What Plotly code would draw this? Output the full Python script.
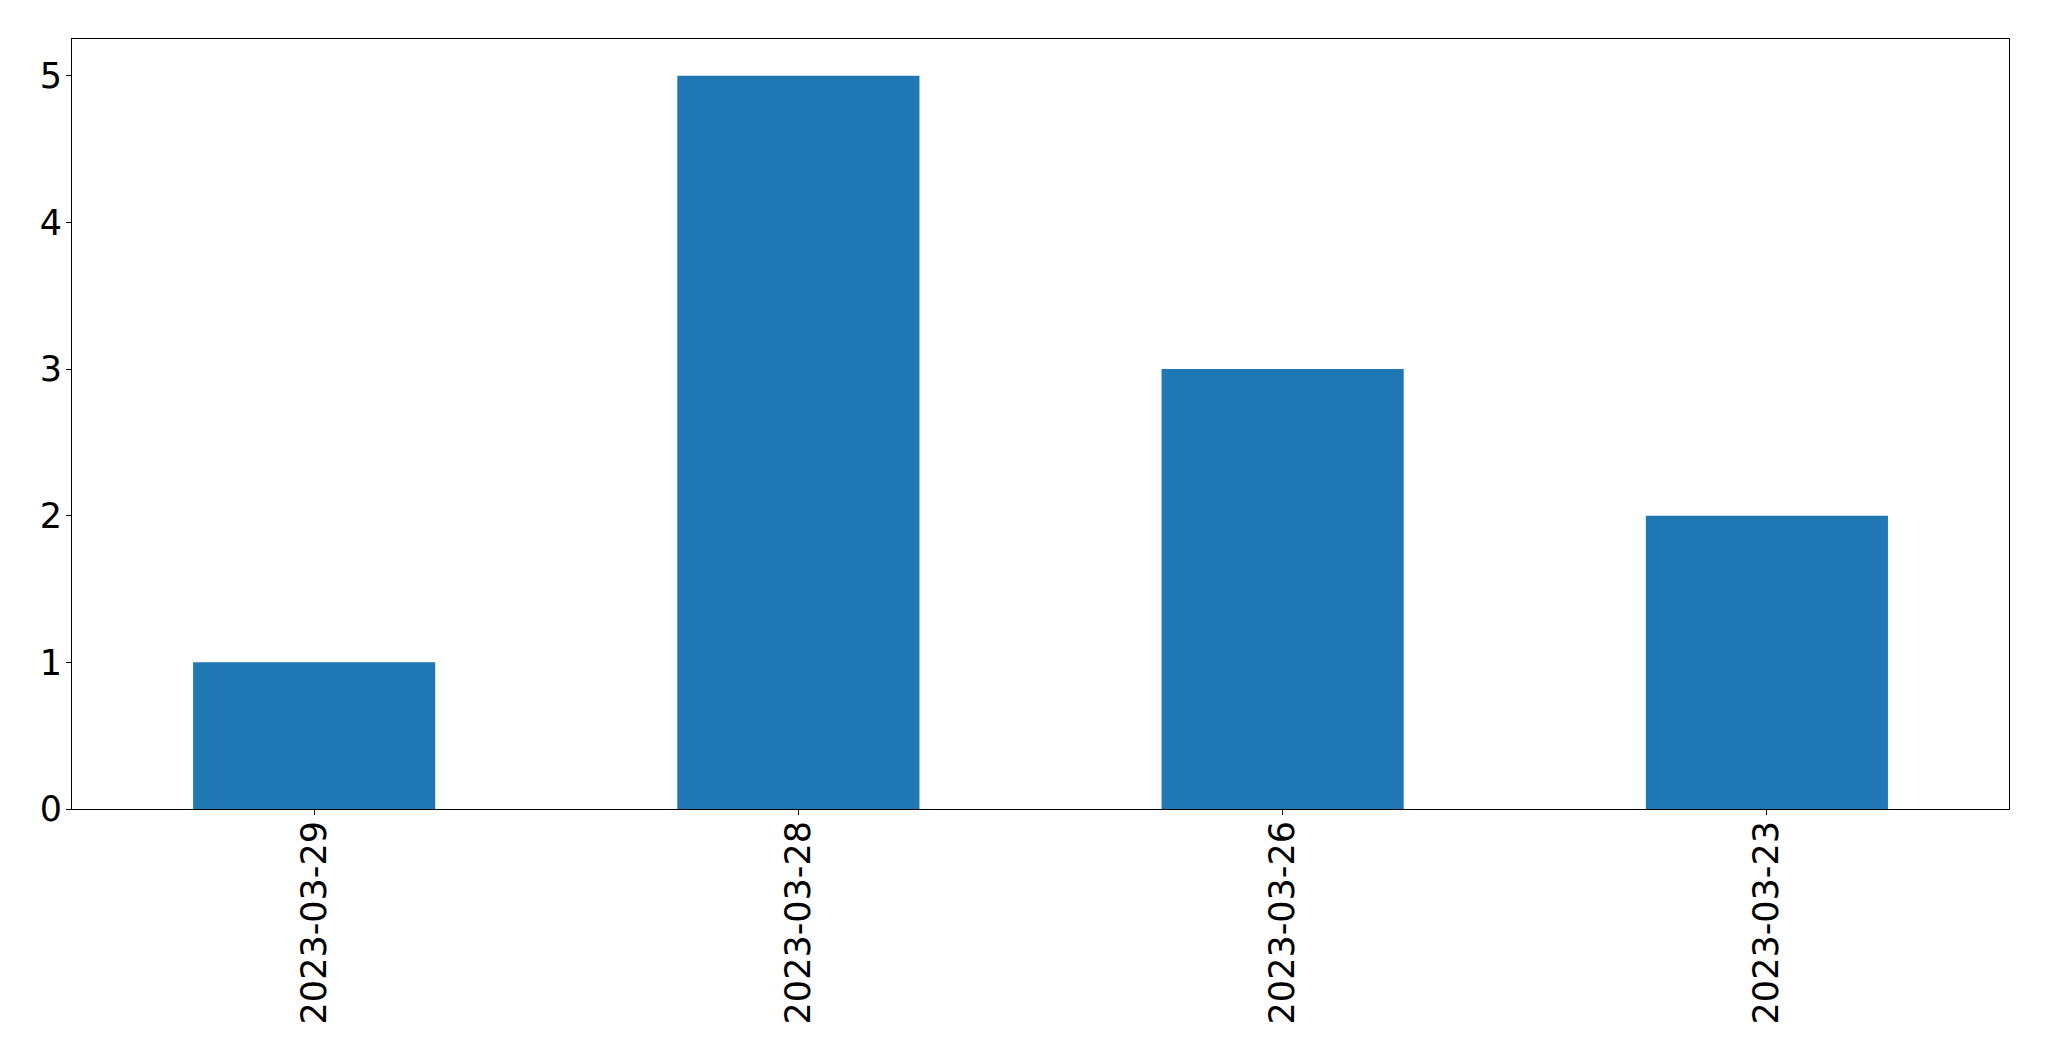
import plotly.graph_objects as go

dates = ["2023-03-29", "2023-03-28", "2023-03-26", "2023-03-23"]
counts = [1, 5, 3, 2]
y_ticks = [0, 1, 2, 3, 4, 5]

fig = go.Figure(go.Bar(x=dates, y=counts, width=0.5, marker=dict(color="#1f77b4", line=dict(width=0))))

font = dict(family="DejaVu Sans", size=35, color="black")
fig.update_layout(
    width=2041, height=1053,
    margin=dict(l=64, r=40, t=31, b=252),
    paper_bgcolor="white", plot_bgcolor="white",
    showlegend=False,
    font=font,
)
fig.update_xaxes(
    type="category", range=[-0.5, len(dates) - 0.5],
    tickangle=-90, ticks="outside", ticklen=5, tickcolor="black", tickwidth=1,
    showline=True, linecolor="black", linewidth=1, mirror=True,
    showgrid=False, zeroline=False, tickfont=font, ticklabelstandoff=-8,
)
fig.update_yaxes(
    range=[0, 5.25], tickvals=y_ticks, ticks="outside", ticklen=5, tickcolor="black", tickwidth=1,
    showline=True, linecolor="black", linewidth=1, mirror=True,
    showgrid=False, zeroline=False, tickfont=font, ticklabelstandoff=-3,
)
fig.write_html("out.html")
